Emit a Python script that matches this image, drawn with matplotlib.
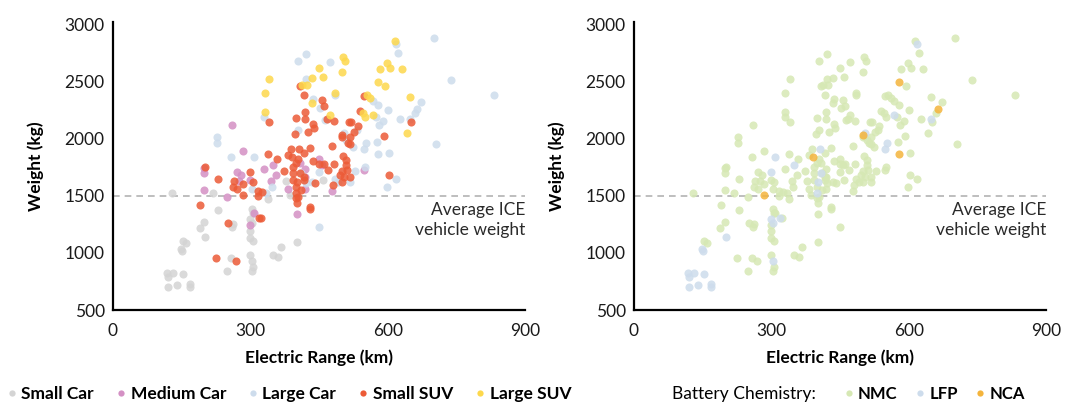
import numpy as np
import matplotlib
matplotlib.use('Agg')
import matplotlib.pyplot as plt
from matplotlib.lines import Line2D

plt.rcParams['font.family'] = ['Lato', 'DejaVu Sans']

# --- data: electric range (km) and weight (kg) per vehicle class ---
small_car_range = [130, 218, 229, 198, 189, 202, 154, 159, 149, 150, 118, 131, 121, 153, 121, 140, 169, 169,
                   258, 249, 262, 259, 304, 306, 299, 304, 299, 300, 306, 300, 304, 306, 304, 368, 350, 360,
                   403, 338, 379, 386, 459]
small_car_weight = [1526, 1526, 1375, 1270, 1217, 1136, 1106, 1083, 1036, 1013, 821, 826, 792, 815, 704, 716, 727, 704,
                    955, 838, 1252, 1229, 1386, 1345, 1299, 1264, 1188, 1130, 1106, 978, 931, 873, 844, 1054, 978, 961,
                    1095, 1468, 1631, 1503, 1637]

medium_car_range = [259, 283, 198, 198, 198, 271, 280, 275, 250, 300, 329, 350, 357, 345, 383, 307, 299, 403,
                    408, 419, 419, 451, 457, 419, 479, 549]
medium_car_weight = [2115, 1896, 1742, 1701, 1549, 1707, 1678, 1631, 1485, 1637, 1736, 1771, 1678, 1631, 1561, 1351,
                     1240, 1340, 1783, 1736, 1666, 1823, 1771, 1561, 1541, 1724]

large_car_range = [421, 405, 473, 422, 438, 453, 485, 463, 329, 227, 227, 258, 309, 405, 504, 524, 532, 553, 549,
                   551, 529, 517, 491, 485, 451, 434, 422, 411, 348, 303, 335, 450, 619, 623, 701, 738, 832, 569,
                   580, 600, 575, 590, 581, 628, 648, 660, 664, 673, 577, 603, 578, 706, 619, 599, 510]
large_car_weight = [2736, 2678, 2666, 2520, 2345, 2272, 2380, 2162, 2188, 2016, 1958, 1835, 1841, 2074, 2051, 1923,
                    2074, 1958, 1911, 1753, 1713, 1619, 1619, 1651, 1707, 1619, 1608, 1695, 1579, 1555, 1526, 1229,
                    2829, 2753, 2876, 2514, 2386, 2331, 2296, 2249, 2185, 2150, 2115, 2170, 2176, 2226, 2255, 2319,
                    1969, 1870, 1864, 1955, 1649, 1573, 1987]

small_suv_range = [409, 418, 457, 460, 341, 399, 419, 419, 438, 440, 425, 398, 467, 482, 516, 521, 548, 539, 536,
                   526, 517, 500, 513, 518, 479, 501, 593, 652, 389, 406, 430, 417, 405, 400, 390, 383, 339, 358,
                   373, 393, 408, 393, 437, 451, 460, 469, 482, 502, 508, 508, 511, 500, 497, 505, 518, 501, 481,
                   441, 418, 402, 400, 399, 400, 402, 430, 431, 323, 319, 326, 317, 316, 306, 299, 285, 283, 265,
                   262, 271, 229, 200, 191, 252, 224, 269, 603, 417, 393, 411, 405]
small_suv_weight = [2459, 2380, 2334, 2287, 2147, 2182, 2229, 2176, 2124, 2089, 2062, 2039, 2170, 2153, 2147, 2147,
                    2374, 2246, 2109, 2062, 2016, 2016, 1958, 1952, 1934, 2036, 2022, 2144, 1911, 1911, 1917, 1870,
                    1826, 1788, 1841, 1855, 1864, 1818, 1718, 1695, 1701, 1753, 1800, 1777, 1777, 1724, 1777, 1847,
                    1812, 1765, 1724, 1718, 1678, 1666, 1666, 1619, 1593, 1614, 1637, 1622, 1579, 1520, 1477, 1439,
                    1398, 1380, 1302, 1307, 1532, 1497, 1544, 1622, 1707, 1599, 1509, 1625, 1579, 1555, 1643, 1748,
                    1418, 1264, 952, 931, 1678, 1666, 1637, 1549, 1491]

large_suv_range = [341, 331, 331, 413, 424, 434, 451, 459, 434, 502, 507, 500, 484, 473, 555, 561, 551, 569, 615,
                   599, 583, 606, 631, 578, 594, 648, 642, 546]
large_suv_weight = [2520, 2403, 2229, 2465, 2471, 2526, 2619, 2543, 2316, 2712, 2683, 2584, 2403, 2211, 2386, 2357,
                    2191, 2211, 2852, 2660, 2613, 2619, 2613, 2491, 2462, 2363, 2048, 2220]

# battery chemistry: everything is NMC except these positions (index within each class list)
lfp_idx = [[5, 8, 9, 10, 11, 12, 13, 14, 15, 16, 17, 24, 25, 30],
           [11],
           [12, 14, 17, 18, 32, 44],
           [29, 40, 59, 61, 67, 72],
           [17]]
nca_idx = [[], [], [46, 50], [25, 34, 74], [23]]

classes = ['Small Car', 'Medium Car', 'Large Car', 'Small SUV', 'Large SUV']
class_colors = ['#d4d4d4', '#d490c4', '#cddcec', '#ec5b37', '#fdd84c']
chem_names = ['NMC', 'LFP', 'NCA']
chem_colors = ['#d6e8b4', '#cddcec', '#f4b43c']

ranges = [small_car_range, medium_car_range, large_car_range, small_suv_range, large_suv_range]
weights = [small_car_weight, medium_car_weight, large_car_weight, small_suv_weight, large_suv_weight]

chem_parts = []
for r, li, ni in zip(ranges, lfp_idx, nca_idx):
    c = np.array(['NMC'] * len(r), dtype=object)
    c[li] = 'LFP'
    c[ni] = 'NCA'
    chem_parts.append(c)
all_range = np.concatenate([np.array(r) for r in ranges])
all_weight = np.concatenate([np.array(w) for w in weights])
all_chem = np.concatenate(chem_parts)

fig = plt.figure(figsize=(10.72, 4.08), dpi=100)
ax1 = fig.add_axes([0.1054, 0.240, 0.3843, 0.706])
ax2 = fig.add_axes([0.5914, 0.240, 0.3843, 0.706])

ms = 34
for r, w, c in zip(ranges, weights, class_colors):
    ax1.scatter(r, w, s=ms, color=c, alpha=0.85, linewidths=0, zorder=3)

for name, c in zip(chem_names, chem_colors):
    m = all_chem == name
    ax2.scatter(all_range[m], all_weight[m], s=ms, color=c, alpha=0.85, linewidths=0, zorder=3)

for ax in (ax1, ax2):
    ax.set_xlim(0, 900)
    ax.set_ylim(500, 3020)
    ax.set_xticks([0, 300, 600, 900])
    ax.set_yticks([500, 1000, 1500, 2000, 2500, 3000])
    ax.tick_params(length=0, labelsize=12.5, colors='#1a1a1a')
    ax.tick_params(axis='x', pad=9)
    ax.tick_params(axis='y', pad=6)
    ax.spines['right'].set_visible(False)
    ax.spines['top'].set_visible(False)
    ax.spines['left'].set_linewidth(1.6)
    ax.spines['bottom'].set_linewidth(1.6)
    ax.axhline(1500, color='#b3b3b3', linestyle=(0, (4, 3)), linewidth=1.2, zorder=1)
    ax.text(900, 1445, 'Average ICE\nvehicle weight', ha='right', va='top', fontsize=12.5,
            color='#2a2a2a', linespacing=1.3)
    ax.set_xlabel('Electric Range (km)', fontsize=12.5, fontweight='bold', labelpad=8)
    ax.set_ylabel('Weight (kg)', fontsize=12.5, fontweight='bold', labelpad=15)

h1 = [Line2D([], [], marker='o', linestyle='', markersize=4.5, markerfacecolor=c, markeredgewidth=0)
      for c in class_colors]
fig.legend(h1, classes, loc='center left', bbox_to_anchor=(0.003, 0.035), ncol=5, frameon=False,
           prop={'weight': 'bold', 'size': 12.5}, handletextpad=0.05, columnspacing=1.05, handlelength=1.0,
           borderpad=0, borderaxespad=0)

fig.text(0.627, 0.035, 'Battery Chemistry:', fontsize=12.5, va='center', ha='left')
h2 = [Line2D([], [], marker='o', linestyle='', markersize=4.5, markerfacecolor=c, markeredgewidth=0)
      for c in chem_colors]
fig.legend(h2, chem_names, loc='center left', bbox_to_anchor=(0.784, 0.035), ncol=3, frameon=False,
           prop={'weight': 'bold', 'size': 12}, handletextpad=0.05, columnspacing=0.85, handlelength=1.0,
           borderpad=0, borderaxespad=0)

fig.savefig('out.png', dpi=100)
